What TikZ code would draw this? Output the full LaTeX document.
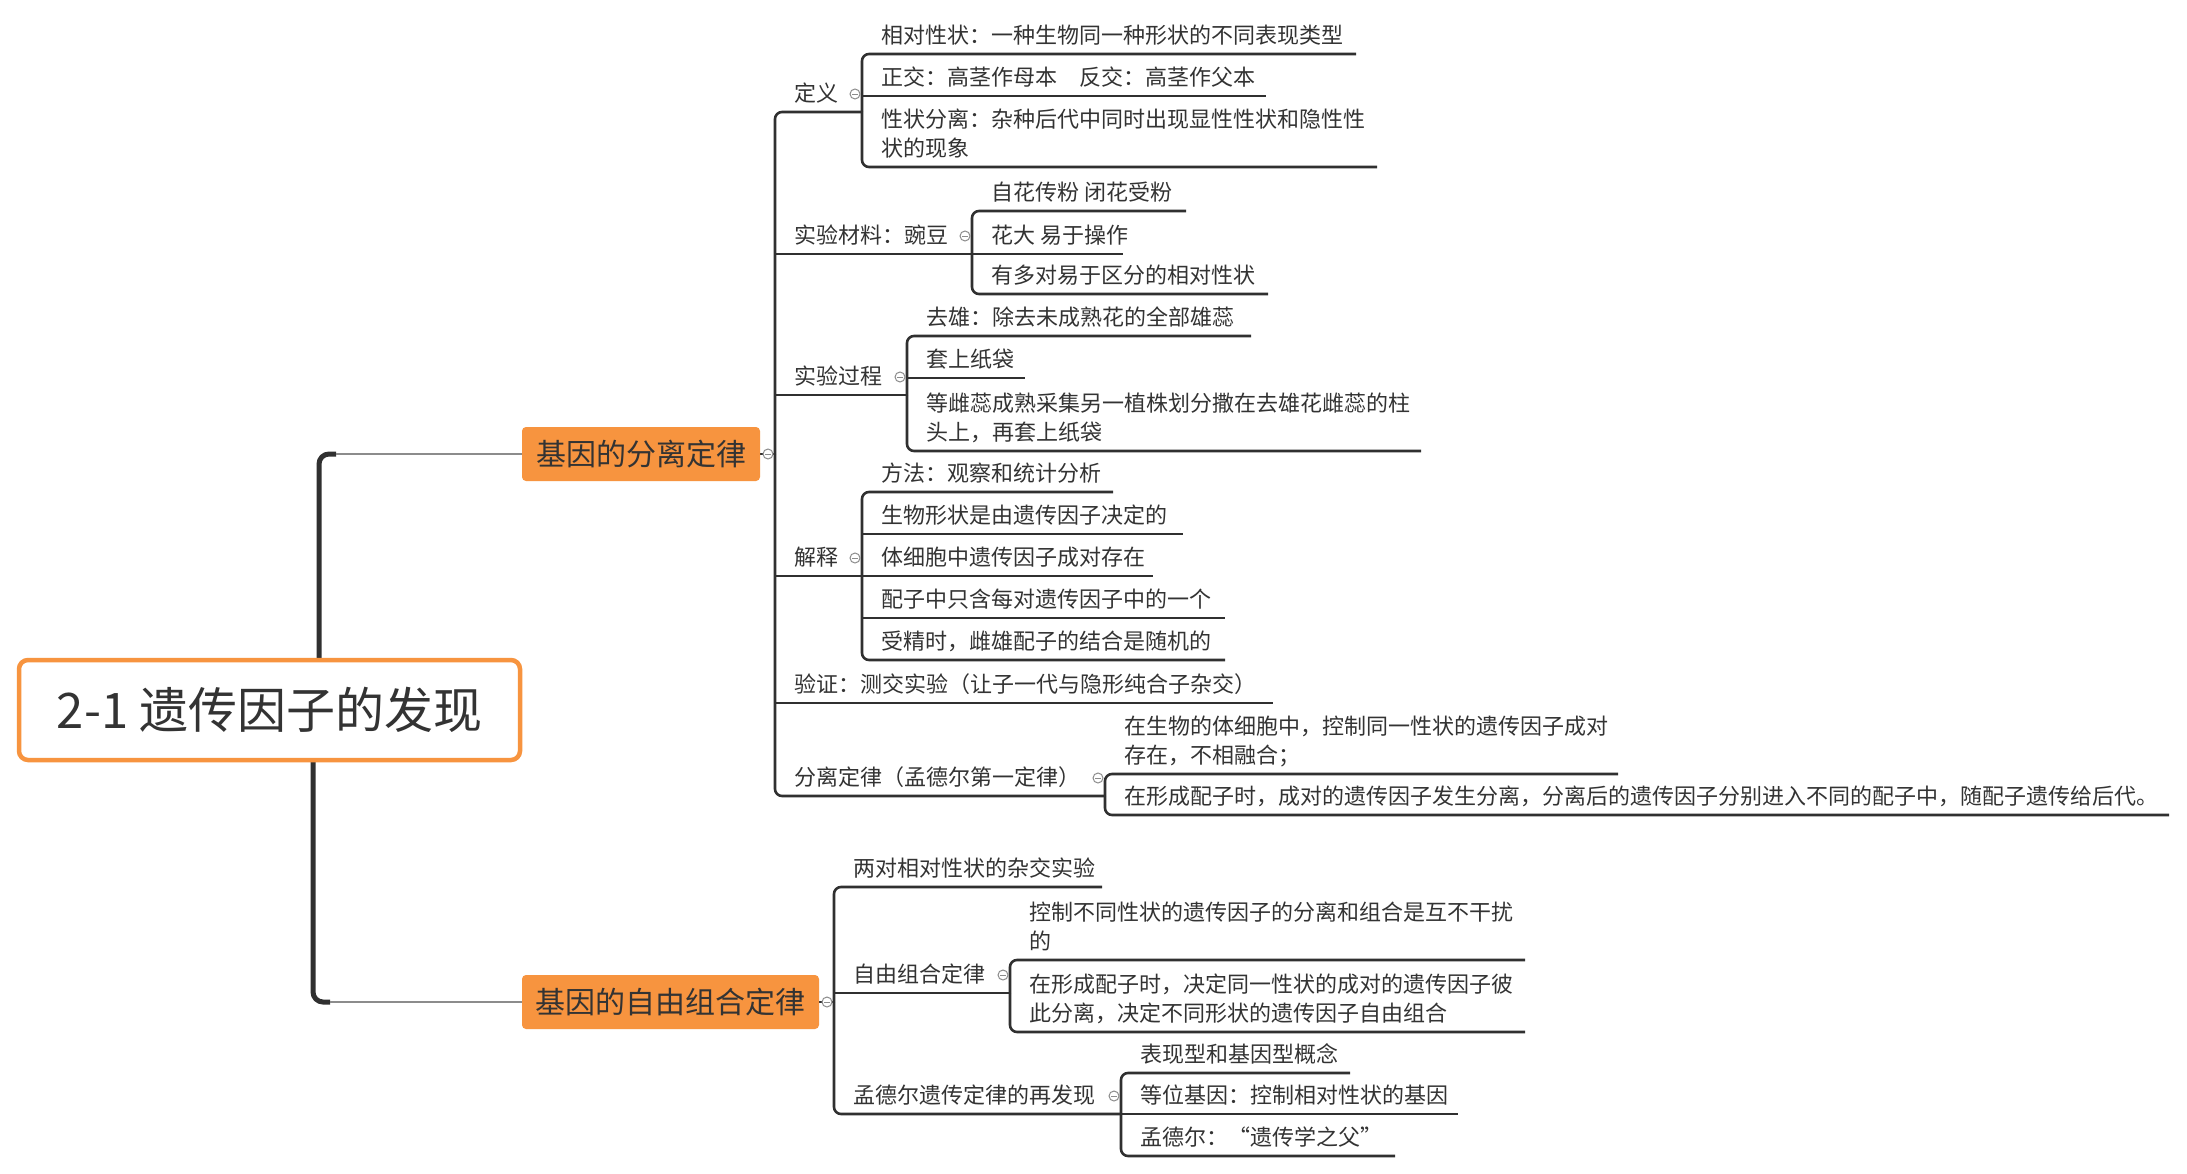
\documentclass[tikz,border=0pt]{standalone}
\usepackage{fontspec}
\newfontfamily\cjk{Noto Sans CJK SC}
\usetikzlibrary{backgrounds}
\definecolor{mmorange}{HTML}{F7943F}
\definecolor{ink}{HTML}{333333}
\definecolor{lineink}{HTML}{303030}
\definecolor{linkgray}{HTML}{8C8C8C}
\newcommand\leaf[5]{%
  \node[leaf] (#1) at (#2+19,#3-1) {#5};
  \coordinate (#1-e) at (#4,#3);}
\newcommand\bracketlines[4]{%
  \draw[conn] (#1) |- (#2-e);
  \draw[conn] (#1) |- (#3-e);
  \foreach \c in {#4} {\draw[conn] (#1 |- \c-e) -- (\c-e);}}
\begin{document}
\begin{tikzpicture}[x=1pt,y=-1pt,
  leaf/.style={anchor=south west,inner sep=0pt,align=left,text=ink,
    font=\cjk\fontsize{22}{29.5}\selectfont,execute at end node=\strut},
  conn/.style={draw=lineink,line width=2.6pt,rounded corners=7pt},
  trunk/.style={draw=lineink,line width=5pt,rounded corners=10pt},
  graylink/.style={draw=linkgray,line width=2.6pt},
  rootbox/.style={draw=mmorange,line width=4.5pt,fill=white,rounded corners=9pt,
    minimum width=501pt,minimum height=100pt,inner sep=0pt,text=ink,
    font=\cjk\fontsize{49}{53}\selectfont},
  branchbox/.style={fill=mmorange,rounded corners=4pt,minimum height=54pt,
    inner sep=0pt,text=ink,font=\cjk\fontsize{30}{34}\selectfont},
  marker/.style={circle,draw=linkgray,fill=white,line width=1pt,minimum size=10pt,inner sep=0pt,
    path picture={\draw[linkgray,line width=0.9pt] ([xshift=2pt]path picture bounding box.west) -- ([xshift=-2pt]path picture bounding box.east);}}
]
\useasboundingbox (0,0) rectangle (2187,1174);

% main nodes
\node[rootbox] (root) at (269.5,710) {2-1 遗传因子的发现};
\node[branchbox,minimum width=238pt] (b1) at (641,454) {基因的分离定律};
\node[branchbox,minimum width=297pt] (b2) at (670.5,1002) {基因的自由组合定律};

\coordinate (tx) at (319,0);
\coordinate (tx2) at (313,0);
\coordinate (trunkA) at (336,454);
\coordinate (trunkB) at (330,1002);
\coordinate (J1) at (775,454);
\coordinate (J2) at (834,1002);

% branch 1 children
\leaf{def}{775}{112}{862}{定义}
\leaf{mat}{775}{254}{972}{实验材料：豌豆}
\leaf{proc}{775}{395}{907}{实验过程}
\leaf{expl}{775}{576}{862}{解释}
\leaf{veri}{775}{703}{1273}{验证：测交实验（让子一代与隐形纯合子杂交）}
\leaf{lawone}{775}{796}{1105}{分离定律（孟德尔第一定律）}

\leaf{defa}{862}{54}{1356}{相对性状：一种生物同一种形状的不同表现类型}
\leaf{defb}{862}{96}{1266}{正交：高茎作母本\hspace{1em}反交：高茎作父本}
\leaf{defc}{862}{167}{1377}{性状分离：杂种后代中同时出现显性性状和隐性性\\状的现象}

\leaf{mata}{972}{211}{1186}{自花传粉 闭花受粉}
\leaf{matb}{972}{254}{1123}{花大 易于操作}
\leaf{matc}{972}{294}{1268}{有多对易于区分的相对性状}

\leaf{proca}{907}{336}{1251}{去雄：除去未成熟花的全部雄蕊}
\leaf{procb}{907}{378}{1025}{套上纸袋}
\leaf{procc}{907}{451}{1421}{等雌蕊成熟采集另一植株划分撒在去雄花雌蕊的柱\\头上，再套上纸袋}

\leaf{expla}{862}{492}{1113}{方法：观察和统计分析}
\leaf{explb}{862}{534}{1183}{生物形状是由遗传因子决定的}
\leaf{explc}{862}{576}{1153}{体细胞中遗传因子成对存在}
\leaf{expld}{862}{618}{1225}{配子中只含每对遗传因子中的一个}
\leaf{exple}{862}{660}{1225}{受精时，雌雄配子的结合是随机的}

\leaf{lawa}{1105}{774}{1618}{在生物的体细胞中，控制同一性状的遗传因子成对\\存在，不相融合；}
\leaf{lawb}{1105}{815}{2169}{在形成配子时，成对的遗传因子发生分离，分离后的遗传因子分别进入不同的配子中，随配子遗传给后代。}

% branch 2 children
\leaf{pair}{834}{887}{1102}{两对相对性状的杂交实验}
\leaf{ind}{834}{993}{1010}{自由组合定律}
\leaf{redis}{834}{1114}{1121}{孟德尔遗传定律的再发现}

\leaf{inda}{1010}{960}{1525}{控制不同性状的遗传因子的分离和组合是互不干扰\\的}
\leaf{indb}{1010}{1032}{1525}{在形成配子时，决定同一性状的成对的遗传因子彼\\此分离，决定不同形状的遗传因子自由组合}

\leaf{redisa}{1121}{1073}{1350}{表现型和基因型概念}
\leaf{redisb}{1121}{1114}{1458}{等位基因：控制相对性状的基因}
\leaf{redisc}{1121}{1156}{1395}{孟德尔：“遗传学之父”}

% connectors
\begin{scope}[on background layer]
  \fill[white] (0,0) rectangle (2187,1174);
  \draw[trunk] (root.center -| tx) |- (trunkA);
  \draw[graylink] (trunkA) -- (b1.west);
  \draw[trunk] (root.center -| tx2) |- (trunkB);
  \draw[graylink] (trunkB) -- (b2.west);

  \draw[conn] (b1.east) -- (J1);
  \bracketlines{J1}{def}{lawone}{mat,proc,expl,veri}
  \bracketlines{def-e}{defa}{defc}{defb}
  \bracketlines{mat-e}{mata}{matc}{matb}
  \bracketlines{proc-e}{proca}{procc}{procb}
  \bracketlines{expl-e}{expla}{exple}{explb,explc,expld}
  \draw[conn] (lawone-e) |- (lawa-e);
  \draw[conn] (lawone-e) |- (lawb-e);

  \draw[conn] (b2.east) -- (J2);
  \bracketlines{J2}{pair}{redis}{ind}
  \draw[conn] (ind-e) |- (inda-e);
  \draw[conn] (ind-e) |- (indb-e);
  \bracketlines{redis-e}{redisa}{redisc}{redisb}
\end{scope}

% collapse markers
\node[marker] (mb1) at (768,454) {};
\node[marker] (mdef) at (855,94) {};
\node[marker] (mmat) at (965,236) {};
\node[marker] (mproc) at (900,377) {};
\node[marker] (mexpl) at (855,558) {};
\node[marker] (mlaw) at (1098,778) {};
\node[marker] (mb2) at (827,1002) {};
\node[marker] (mind) at (1003,975) {};
\node[marker] (mredis) at (1114,1096) {};
\end{tikzpicture}
\end{document}
